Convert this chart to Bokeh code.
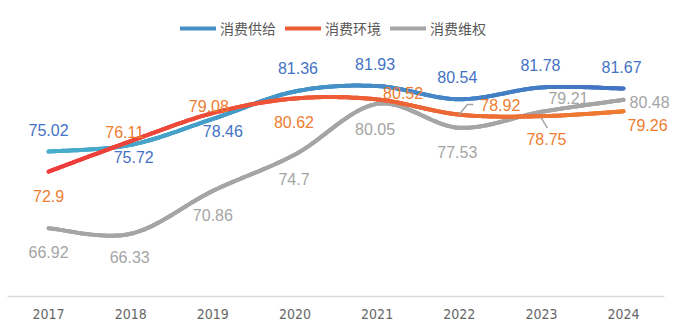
import numpy as np
from bokeh.plotting import figure
from bokeh.models import Range1d, FixedTicker, Legend, LegendItem, ColumnDataSource
from bokeh.core.properties import value
from bokeh.embed import file_html
from bokeh.resources import INLINE

years = ["2017", "2018", "2019", "2020", "2021", "2022", "2023", "2024"]
supply = [75.02, 75.72, 78.46, 81.36, 81.93, 80.54, 81.78, 81.67]
environment = [72.9, 76.11, 79.08, 80.62, 80.52, 78.92, 78.75, 79.26]
rights = [66.92, 66.33, 70.86, 74.7, 80.05, 77.53, 79.21, 80.48]
names = ["消费供给", "消费环境", "消费维权"]

# styling / layout (screen-pixel offsets for labels)
W, H = 691, 330
BL, BR, BT, BB = 7, 0, 10, 34
STEP = 82.14
Y0, Y1 = 59.71, 89.91
sup_off = [(0, -22), (3, 12), (10, 12), (3, -23), (-2, -22), (-2, -22), (-1, -22), (-2, -22)]
env_off = [(0, 24), (-6, -9), (-4, -7), (-1, 24), (26, -6), (41, -10), (5, 23), (24, 14)]
rig_off = [(0, 24), (-1, 23), (0, 24), (-1, 24), (-2, 25), (-2, 24), (27, -14), (26, 2)]

n = len(years)
xs = np.arange(n, dtype=float)
x_end = -0.5 + (W - BL - BR) / STEP
pxu_x = STEP
pxu_y = (H - BT - BB) / (Y1 - Y0)


def smooth(x, y, k=24):
    p = np.column_stack([x, y]).astype(float)
    out = []
    m = len(p)
    for i in range(m - 1):
        p0 = p[i - 1] if i > 0 else p[i]
        p1 = p[i]
        p2 = p[i + 1]
        p3 = p[i + 2] if i + 2 < m else p[i + 1]
        c1 = p1 + (p2 - p0) / 6.0
        c2 = p2 - (p3 - p1) / 6.0
        t = np.linspace(0, 1, k, endpoint=(i == m - 2))[:, None]
        b = ((1 - t) ** 3) * p1 + 3 * ((1 - t) ** 2) * t * c1 + 3 * (1 - t) * t ** 2 * c2 + t ** 3 * p2
        out.append(b)
    b = np.vstack(out)
    return b[:, 0], b[:, 1]


def hex2rgb(h):
    h = h.lstrip("#")
    return np.array([int(h[i:i + 2], 16) for i in (0, 2, 4)], dtype=float)


def grad(c0, c1, f):
    a, b = hex2rgb(c0), hex2rgb(c1)
    c = a + (b - a) * f
    return "#%02x%02x%02x" % tuple(int(round(v)) for v in c)


p = figure(width=W, height=H, output_backend="svg", toolbar_location=None,
           x_range=Range1d(-0.5, x_end), y_range=Range1d(Y0, Y1),
           min_border_left=BL, min_border_right=BR, min_border_top=BT, min_border_bottom=BB)
p.outline_line_color = None
p.background_fill_color = "white"
p.border_fill_color = "white"
p.xgrid.visible = False
p.ygrid.visible = False
p.yaxis.visible = False

ax = p.xaxis[0]
ax.ticker = FixedTicker(ticks=list(range(n)))
ax.bounds = (-0.5, n - 0.5)
ax.major_label_overrides = {i: y for i, y in enumerate(years)}
ax.major_tick_line_color = None
ax.minor_tick_line_color = None
ax.axis_line_color = "#D9D9D9"
ax.axis_line_width = 1.5
ax.major_label_text_font = "DejaVu Sans Condensed"
ax.major_label_text_font_size = "14px"
ax.major_label_text_color = "#666666"
ax.major_label_standoff = 6

series = [
    (supply, "#46AECA", "#4472C4", "#4472C4", sup_off),
    (environment, "#EE3A3C", "#ED7D31", "#ED7D31", env_off),
    (rights, "#A5A5A5", "#A5A5A5", "#A5A5A5", rig_off),
]

legend_renderers = {}
# draw order: rights, supply, environment (environment on top)
for idx in [2, 0, 1]:
    vals, c0, c1, lc, off = series[idx]
    sx, sy = smooth(xs, vals)
    base = p.line(sx, sy, line_color=grad(c0, c1, 0.5), line_width=4, line_cap="round")
    legend_renderers[idx] = base
    f = (sx[:-1] - sx.min()) / (sx.max() - sx.min())
    cols = [grad(c0, c1, v) for v in f]
    p.segment(x0=sx[:-1], y0=sy[:-1], x1=sx[1:], y1=sy[1:], line_color=cols,
              line_width=4, line_cap="round")

# leader lines for two crowded labels (orange 2022, orange 2023)
lead_pts = [
    (5, [(0, 0), (8, -10), (14, -10)]),
    (6, [(0, 2), (6, 12)]),
]
for i, pts in lead_pts:
    lx = [xs[i] + dx / pxu_x for dx, dy in pts]
    ly = [environment[i] - dy / pxu_y for dx, dy in pts]
    p.line(lx, ly, line_color="#A5A5A5", line_width=1.5)

for vals, c0, c1, lc, off in series:
    src = ColumnDataSource(dict(x=xs, y=vals, t=[("%g" % v) for v in vals],
                                dx=[o[0] for o in off], dy=[o[1] for o in off]))
    p.text(x="x", y="y", text="t", x_offset="dx", y_offset="dy", source=src,
           text_color=lc, text_font=value("Liberation Sans"), text_font_size="16px",
           text_align="center", text_baseline="middle")

# legend
items = [LegendItem(label=name, renderers=[legend_renderers[i]]) for i, name in enumerate(names)]
leg = Legend(items=items, orientation="horizontal", location=(173, 286 - 28),
             label_text_font="Noto Sans CJK SC", label_text_font_size="14px",
             label_text_color="#595959", glyph_width=36, glyph_height=14,
             label_standoff=4, spacing=9, padding=2, margin=0,
             background_fill_alpha=0, border_line_color=None)
p.add_layout(leg)

open("out.html", "w").write(file_html(p, INLINE))
